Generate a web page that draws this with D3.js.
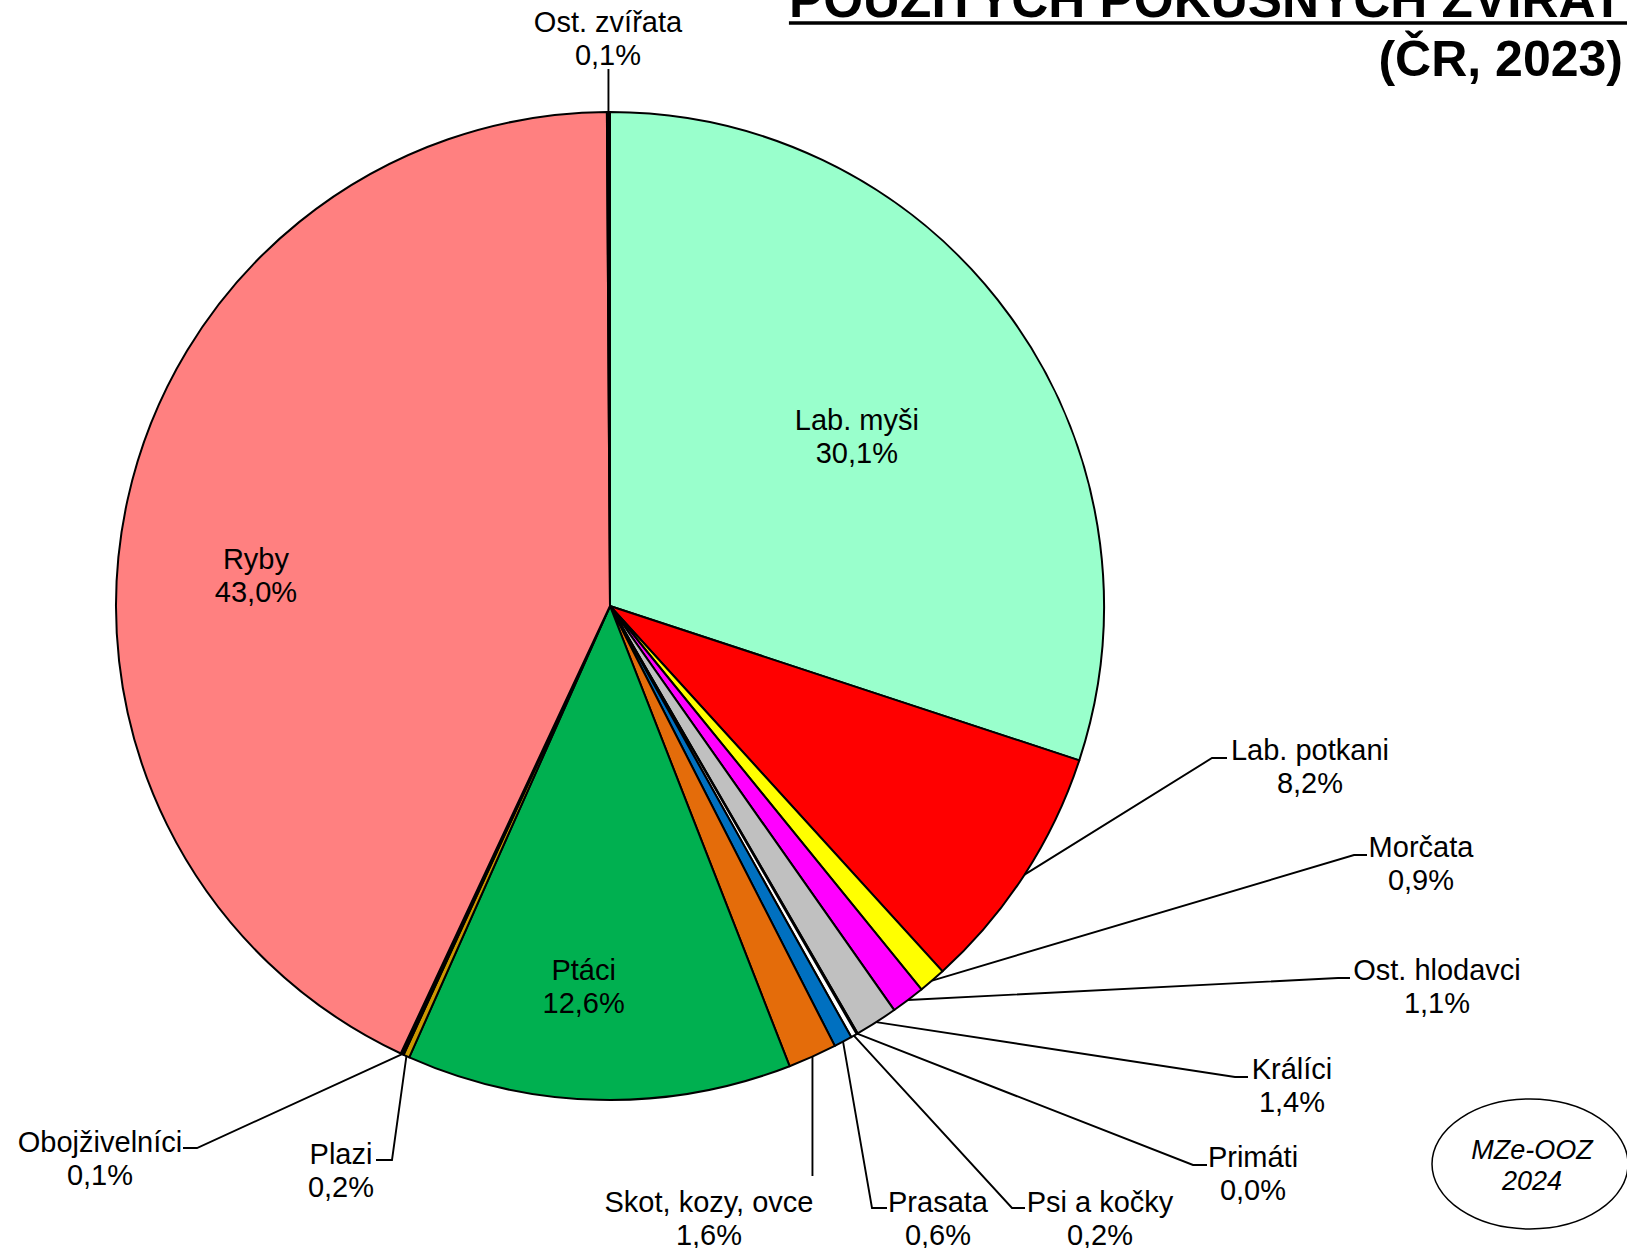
<!DOCTYPE html>
<html>
<head>
<meta charset="utf-8">
<script src="https://cdn.jsdelivr.net/npm/d3@7"></script>
<style>
  body { margin: 0; background: #fff; }
  text { font-family: "Liberation Sans", Arial, sans-serif; fill: #000; }
</style>
</head>
<body>
<div id="chart"></div>
<script>
// categories in drawing order (clockwise from 12 o'clock)
const categories = ['Lab. myši', 'Lab. potkani', 'Morčata', 'Ost. hlodavci', 'Králíci', 'Primáti',
  'Psi a kočky', 'Prasata', 'Skot, kozy, ovce', 'Ptáci', 'Plazi', 'Obojživelníci', 'Ryby', 'Ost. zvířata'];
// share of animals used, %
const shares = [30.1, 8.2, 0.9, 1.1, 1.4, 0.04, 0.2, 0.6, 1.6, 12.6, 0.2, 0.1, 43.0, 0.1];
const colors = ['#99FFCC', '#FF0000', '#FFFF00', '#FF00FF', '#C0C0C0', '#FFFFFF',
  '#FFFFFF', '#0070C0', '#E46C0A', '#00B050', '#CC9900', '#000000', '#FF8080', '#000000'];
const titleLines = ['POUŽITÝCH POKUSNÝCH ZVÍŘAT', '(ČR, 2023)'];
const stampLines = ['MZe-OOZ', '2024'];

const width = 1627, height = 1248;
const cx = 610, cy = 606, radius = 494;
const fontSize = 29, lineGap = 33;

// labels drawn inside the slice: polar position (angle in degrees, fraction of radius)
const insideLabels = {
  'Lab. myši': { a: 55, r: 0.61 },
  'Ryby': { a: 275.5, r: 0.72 },
  'Ptáci': { a: 184, r: 0.765 }
};
// outside labels: text centre x, first baseline y, leader elbow and tick end
const outsideLabels = {
  'Lab. potkani': { x: 1310, y: 760, elbow: [1212, 758], end: [1227, 758] },
  'Morčata': { x: 1421, y: 857, elbow: [1354, 855], end: [1367, 855] },
  'Ost. hlodavci': { x: 1437, y: 980, elbow: [1338, 978], end: [1350, 978] },
  'Králíci': { x: 1292, y: 1079, elbow: [1235, 1077], end: [1248, 1077] },
  'Primáti': { x: 1253, y: 1167, elbow: [1193, 1165], end: [1207, 1165] },
  'Psi a kočky': { x: 1100, y: 1212, elbow: [1012, 1208], end: [1025, 1208] },
  'Prasata': { x: 938, y: 1212, elbow: [872, 1208], end: [887, 1208] },
  'Skot, kozy, ovce': { x: 709, y: 1212, elbow: null, end: null, drop: 1176 },
  'Plazi': { x: 341, y: 1164, elbow: [392, 1160], end: [376, 1160] },
  'Obojživelníci': { x: 100, y: 1152, elbow: [197, 1148], end: [183, 1148] },
  'Ost. zvířata': { x: 608, y: 32, elbow: null, end: null, drop: 69 }
};

const fmt = v => d3.format('.1f')(v).replace('.', ',') + '%';

const svg = d3.select('#chart').append('svg')
  .attr('width', width).attr('height', height);

const data = categories.map((c, i) => ({ name: c, value: shares[i], color: colors[i] }));

const pie = d3.pie().sort(null).value(d => d.value);
const arcs = pie(data);
const arc = d3.arc().innerRadius(0).outerRadius(radius);

const g = svg.append('g').attr('transform', `translate(${cx},${cy})`);

g.selectAll('path')
  .data(arcs)
  .enter()
  .append('path')
  .attr('d', arc)
  .attr('fill', d => d.data.color)
  .attr('stroke', '#000')
  .attr('stroke-width', 2)
  .attr('stroke-linejoin', 'round');

// inside labels
arcs.filter(d => insideLabels[d.data.name]).forEach(d => {
  const p = insideLabels[d.data.name];
  const a = p.a * Math.PI / 180;
  const x = Math.sin(a) * radius * p.r;
  const y = -Math.cos(a) * radius * p.r;
  const t = g.append('text')
    .attr('text-anchor', 'middle')
    .attr('font-size', fontSize);
  t.append('tspan').attr('x', x).attr('y', y - 3).text(d.data.name);
  t.append('tspan').attr('x', x).attr('y', y - 3 + lineGap).text(fmt(d.data.value));
});

// outside labels with leader lines
const leaders = svg.append('g');
arcs.filter(d => outsideLabels[d.data.name]).forEach(d => {
  const p = outsideLabels[d.data.name];
  const mid = (d.startAngle + d.endAngle) / 2;
  const sx = cx + Math.sin(mid) * radius;
  const sy = cy - Math.cos(mid) * radius;
  let pts;
  if (p.elbow) {
    pts = [[sx, sy], p.elbow, p.end];
  } else {
    pts = [[sx, sy], [sx, p.drop]];
  }
  leaders.append('path')
    .attr('d', d3.line()(pts))
    .attr('fill', 'none')
    .attr('stroke', '#000')
    .attr('stroke-width', 1.9);

  const t = svg.append('text')
    .attr('text-anchor', 'middle')
    .attr('font-size', fontSize);
  t.append('tspan').attr('x', p.x).attr('y', p.y).text(d.data.name);
  t.append('tspan').attr('x', p.x).attr('y', p.y + lineGap).text(fmt(d.data.value));
});

// title (top right, partly cut off by the page edge)
const title1 = svg.append('text')
  .attr('x', 1623).attr('y', 17)
  .attr('text-anchor', 'end')
  .attr('font-size', 51.3)
  .attr('font-weight', 'bold')
  .text(titleLines[0]);
const tw = title1.node().getComputedTextLength();
svg.append('line')
  .attr('x1', 1623 - tw).attr('x2', 1627)
  .attr('y1', 23).attr('y2', 23)
  .attr('stroke', '#000').attr('stroke-width', 3.5);
svg.append('text')
  .attr('x', 1623).attr('y', 76)
  .attr('text-anchor', 'end')
  .attr('font-size', 50)
  .attr('font-weight', 'bold')
  .text(titleLines[1]);

// source stamp
svg.append('ellipse')
  .attr('cx', 1530).attr('cy', 1164)
  .attr('rx', 98).attr('ry', 65)
  .attr('fill', 'none')
  .attr('stroke', '#000')
  .attr('stroke-width', 1.5);
const stamp = svg.append('text')
  .attr('text-anchor', 'middle')
  .attr('font-size', 27)
  .attr('font-style', 'italic');
stampLines.forEach((s, i) => {
  stamp.append('tspan').attr('x', 1532).attr('y', 1159 + i * 31).text(s);
});
</script>
</body>
</html>
